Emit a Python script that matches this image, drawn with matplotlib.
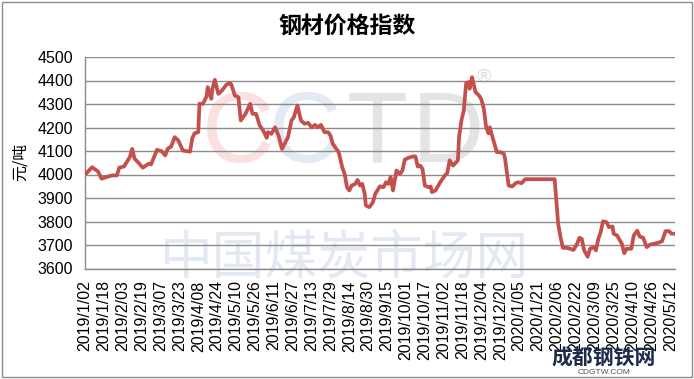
"""
钢材价格指数 折线图 (2019/1/02 ~ 2020/5/12)
"""
import matplotlib
matplotlib.use("Agg")
import matplotlib.pyplot as plt
import matplotlib.patches as mpatches
import pandas as pd

# ─────────────────────────────────────────────────────────────
# 数据
# ─────────────────────────────────────────────────────────────
DATES = [
    "2019-01-02", "2019-01-03", "2019-01-08", "2019-01-13", "2019-01-16",
    "2019-01-20", "2019-01-25", "2019-01-29", "2019-01-31", "2019-02-04",
    "2019-02-09", "2019-02-11", "2019-02-13", "2019-02-16", "2019-02-20",
    "2019-02-25", "2019-02-27", "2019-03-04", "2019-03-08", "2019-03-11",
    "2019-03-13", "2019-03-16", "2019-03-19", "2019-03-22", "2019-03-26",
    "2019-04-01", "2019-04-03", "2019-04-05", "2019-04-08", "2019-04-09",
    "2019-04-12", "2019-04-15", "2019-04-16", "2019-04-19", "2019-04-20",
    "2019-04-22", "2019-04-25", "2019-04-28", "2019-05-02", "2019-05-05",
    "2019-05-06", "2019-05-09", "2019-05-12", "2019-05-14", "2019-05-18",
    "2019-05-22", "2019-05-24", "2019-05-27", "2019-05-30", "2019-06-02",
    "2019-06-05", "2019-06-06", "2019-06-09", "2019-06-12", "2019-06-15",
    "2019-06-18", "2019-06-23", "2019-06-26", "2019-06-28", "2019-07-01",
    "2019-07-04", "2019-07-07", "2019-07-10", "2019-07-13", "2019-07-16",
    "2019-07-18", "2019-07-21", "2019-07-24", "2019-07-27", "2019-07-29",
    "2019-07-31", "2019-08-05", "2019-08-08", "2019-08-10", "2019-08-12",
    "2019-08-14", "2019-08-16", "2019-08-19", "2019-08-21", "2019-08-23",
    "2019-08-25", "2019-08-27", "2019-08-28", "2019-08-31", "2019-09-03",
    "2019-09-05", "2019-09-09", "2019-09-12", "2019-09-14", "2019-09-16",
    "2019-09-18", "2019-09-20", "2019-09-23", "2019-09-26", "2019-09-28",
    "2019-09-30", "2019-10-03", "2019-10-07", "2019-10-09", "2019-10-11",
    "2019-10-13", "2019-10-15", "2019-10-17", "2019-10-20", "2019-10-22",
    "2019-10-23", "2019-10-26", "2019-10-30", "2019-11-03", "2019-11-05",
    "2019-11-07", "2019-11-10", "2019-11-14", "2019-11-15", "2019-11-17",
    "2019-11-19", "2019-11-21", "2019-11-23", "2019-11-24", "2019-11-26",
    "2019-11-29", "2019-12-02", "2019-12-04", "2019-12-06", "2019-12-08",
    "2019-12-10", "2019-12-11", "2019-12-15", "2019-12-17", "2019-12-20",
    "2019-12-23", "2019-12-24", "2019-12-27", "2019-12-30", "2020-01-02",
    "2020-01-04", "2020-01-07", "2020-01-10", "2020-02-04", "2020-02-07",
    "2020-02-09", "2020-02-11", "2020-02-14", "2020-02-17", "2020-02-20",
    "2020-02-23", "2020-02-25", "2020-02-27", "2020-02-29", "2020-03-03",
    "2020-03-05", "2020-03-08", "2020-03-10", "2020-03-12", "2020-03-14",
    "2020-03-16", "2020-03-19", "2020-03-21", "2020-03-24", "2020-03-25",
    "2020-03-28", "2020-03-30", "2020-04-01", "2020-04-03", "2020-04-05",
    "2020-04-09", "2020-04-11", "2020-04-14", "2020-04-16", "2020-04-19",
    "2020-04-22", "2020-04-25", "2020-04-28", "2020-05-01", "2020-05-05",
    "2020-05-08", "2020-05-11", "2020-05-13", "2020-05-15",
]

VALUES = [
    4010, 4004, 4031, 4013, 3982,
    3989, 3996, 3996, 4029, 4034,
    4074, 4109, 4067, 4052, 4029,
    4046, 4043, 4105, 4099, 4081,
    4109, 4119, 4159, 4145, 4102,
    4097, 4156, 4176, 4180, 4301,
    4301, 4332, 4372, 4322, 4365,
    4403, 4343, 4357, 4383, 4389,
    4383, 4336, 4329, 4230, 4258,
    4301, 4258, 4258, 4209, 4187,
    4156, 4180, 4173, 4201, 4166,
    4109, 4159, 4230, 4244, 4294,
    4230, 4216, 4220, 4201, 4211,
    4201, 4211, 4180, 4180, 4166,
    4130, 4095, 4031, 4003, 3946,
    3932, 3953, 3960, 3977, 3953,
    3960, 3918, 3868, 3861, 3882,
    3918, 3950, 3946, 3967, 3960,
    3989, 3932, 4017, 4003, 4017,
    4063, 4071, 4077, 4077, 4034,
    4038, 4024, 3953, 3946, 3949,
    3925, 3932, 3967, 3996, 4006,
    4060, 4038, 4060, 4159, 4230,
    4272, 4389, 4393, 4365, 4414,
    4350, 4336, 4318, 4279, 4200,
    4175, 4201, 4130, 4095, 4095,
    4088, 4067, 3953, 3949, 3963,
    3967, 3963, 3980, 3980, 3790,
    3733, 3688, 3688, 3684, 3679,
    3705, 3731, 3726, 3677, 3650,
    3684, 3691, 3677, 3726, 3754,
    3801, 3797, 3776, 3779, 3748,
    3740, 3722, 3705, 3665, 3684,
    3684, 3740, 3761, 3736, 3731,
    3691, 3702, 3705, 3708, 3716,
    3759, 3759, 3748, 3748,
]

TICK_DATES = [
    "2019-01-02", "2019-01-18", "2019-02-03", "2019-02-19", "2019-03-07",
    "2019-03-23", "2019-04-08", "2019-04-24", "2019-05-10", "2019-05-26",
    "2019-06-11", "2019-06-27", "2019-07-13", "2019-07-29", "2019-08-14",
    "2019-08-30", "2019-09-15", "2019-10-01", "2019-10-17", "2019-11-02",
    "2019-11-18", "2019-12-04", "2019-12-20", "2020-01-05", "2020-01-21",
    "2020-02-06", "2020-02-22", "2020-03-09", "2020-03-25", "2020-04-10",
    "2020-04-26", "2020-05-12",
]
TICK_LABELS = [
    "2019/1/02", "2019/1/18", "2019/2/03", "2019/2/19", "2019/3/07",
    "2019/3/23", "2019/4/08", "2019/4/24", "2019/5/10", "2019/5/26",
    "2019/6/11", "2019/6/27", "2019/7/13", "2019/7/29", "2019/8/14",
    "2019/8/30", "2019/9/15", "2019/10/01", "2019/10/17", "2019/11/02",
    "2019/11/18", "2019/12/04", "2019/12/20", "2020/1/05", "2020/1/21",
    "2020/2/06", "2020/2/22", "2020/3/09", "2020/3/25", "2020/4/10",
    "2020/4/26", "2020/5/12",
]
Y_TICKS = [3600, 3700, 3800, 3900, 4000, 4100, 4200, 4300, 4400, 4500]

LINE_COLOR = "#c4504e"
GRID_COLOR = "#8c8c8c"

plt.rcParams["font.family"] = ["Liberation Sans", "Noto Sans CJK SC", "DejaVu Sans"]

W, H = 694, 379
fig = plt.figure(figsize=(W / 100, H / 100), dpi=100)


def fx(px):
    return px / W


def fy(py):
    return 1 - py / H


# 外框
fig.patches.append(mpatches.Rectangle((fx(2), fy(377)), fx(690), 375 / H,
                                      transform=fig.transFigure, fill=False,
                                      edgecolor="#8c8c8c", lw=1.0))

ax = fig.add_axes([fx(85), fy(268.5), fx(675) - fx(85), fy(57) - fy(268.5)])
ax.set_facecolor("none")

# ── 水印 (画在坐标轴之下) ──────────────────────────────────
wm = dict(ha="center", va="center", zorder=-1)
fig.text(fx(238), fy(136), "C", color="#fbe0e0", fontsize=72, **wm)
fig.text(fx(305), fy(136), "C", color="#e3eaf3", fontsize=72, **wm)
fig.text(fx(377), fy(136), "T", color="#e4e4e4", fontsize=72, **wm)
fig.text(fx(448), fy(136), "D", color="#e4e4e4", fontsize=72, **wm)
fig.text(fx(484), fy(77), "®", color="#dcdcdc", fontsize=14, **wm)
fig.text(fx(345), fy(258), "中国煤炭市场网", color="#e2e9f3", fontsize=38,
         family=["Noto Sans CJK SC"], **wm)
fig.text(fx(345), fy(300), "www.cctd.com.cn", color="#ececec", fontsize=9, **wm)

# ── 折线 ────────────────────────────────────────────────────
x = pd.to_datetime(DATES)
ax.plot(x, VALUES, color=LINE_COLOR, lw=2.7, solid_joinstyle="round", zorder=3)

ax.set_ylim(3600, 4500)
ax.set_yticks(Y_TICKS)
ax.set_xlim(pd.Timestamp("2019-01-02"), pd.Timestamp("2020-05-16"))
ax.set_xticks(pd.to_datetime(TICK_DATES))
ax.set_xticklabels(TICK_LABELS, rotation=90, fontsize=11.5)
ax.tick_params(axis="y", labelsize=11.5, length=0, pad=8.5)
ax.tick_params(axis="x", length=0, pad=8.5)

ax.grid(axis="y", color=GRID_COLOR, lw=1.0, zorder=1)
ax.set_axisbelow(True)
for s in ("top", "right"):
    ax.spines[s].set_visible(False)
for s in ("left", "bottom"):
    ax.spines[s].set_color(GRID_COLOR)
    ax.spines[s].set_linewidth(1.0)

# ── 标题 / 轴标签 ───────────────────────────────────────────
fig.text(0.5, fy(27), "钢材价格指数", ha="center", va="center",
         fontsize=16.5, fontweight="bold", family=["Noto Sans CJK SC"])
fig.text(fx(20), fy(162), "元/吨", ha="center", va="center", rotation=90,
         fontsize=11.5, family=["Noto Sans CJK SC"])

# ── 成都钢铁网 logo ─────────────────────────────────────────
fig.text(fx(604), fy(358), "成都钢铁网", ha="center", va="center", fontsize=15,
         fontweight="bold", color="#1e2a4a", family=["Noto Sans CJK SC"], zorder=5)
fig.text(fx(604), fy(372), "CDGTW.COM", ha="center", va="center", fontsize=6,
         color="#555555", zorder=5)

fig.savefig("out.png", dpi=100)
